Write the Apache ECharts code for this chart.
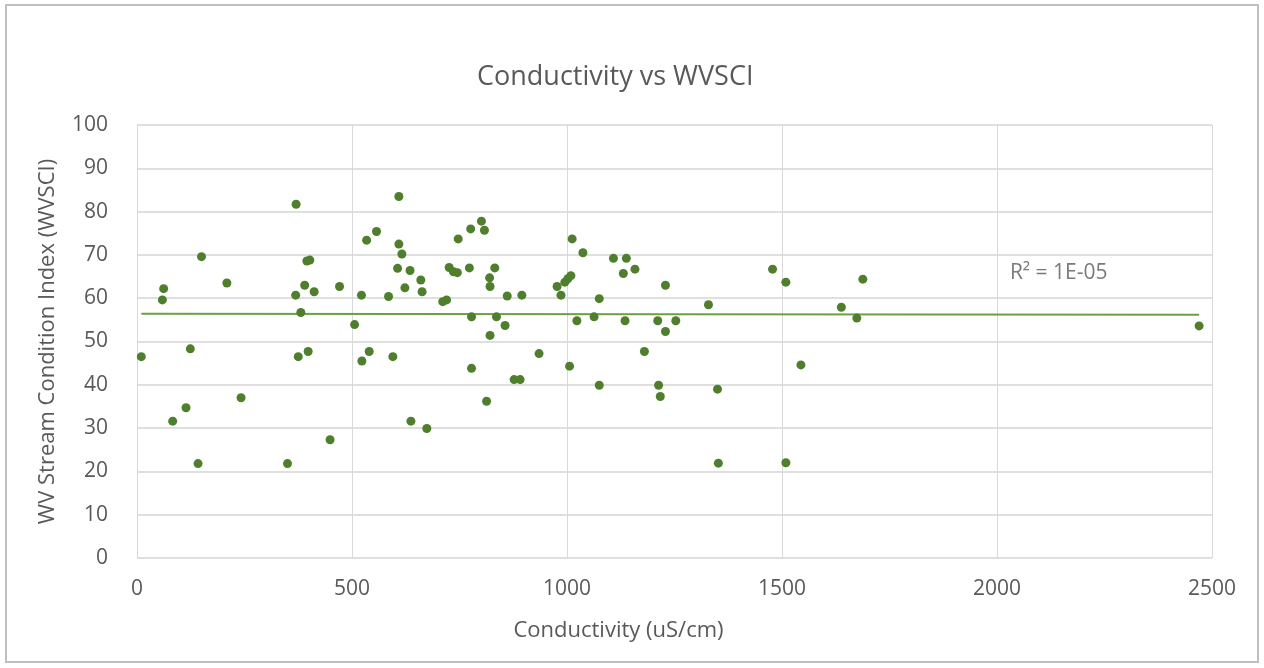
<!DOCTYPE html>
<html>
<head>
<meta charset="utf-8">
<script src="https://cdn.jsdelivr.net/npm/echarts@6/dist/echarts.min.js"></script>
<style>
  html, body {margin:0; padding:0; background:#fff;}
  #frame {position:absolute; left:5px; top:4px; width:1250px; height:655px; border:2px solid #bfbfbf;}
  #chart {position:absolute; left:0; top:0; width:1264px; height:668px;}
</style>
</head>
<body>
<div id="frame"></div>
<div id="chart"></div>
<script>
// conductivity (uS/cm)
const conductivity = [
  10, 59, 62, 83, 114, 124, 142, 150, 209, 242,
  350, 370, 369, 381, 375, 398, 390, 412, 395, 402,
  449, 471, 506, 522, 523, 540, 534, 557, 585, 595,
  609, 609, 616, 606, 635, 623, 660, 663, 637, 674,
  711, 720, 726, 736, 745, 747, 773, 776, 801, 808,
  778, 778, 813, 821, 820, 821, 832, 836, 856, 861,
  895, 877, 891, 935, 977, 986, 995, 1002, 1009, 1012,
  1006, 1023, 1037, 1063, 1075, 1075, 1108, 1138, 1131, 1158,
  1135, 1180, 1211, 1229, 1253, 1229, 1213, 1217, 1329, 1350,
  1352, 1478, 1509, 1509, 1544, 1638, 1674, 1688, 2470
];
// WV Stream Condition Index
const wvsci = [
  46.5, 59.6, 62.2, 31.6, 34.7, 48.3, 21.8, 69.6, 63.5, 37.0,
  21.8, 81.7, 60.7, 56.7, 46.5, 47.7, 63.0, 61.5, 68.6, 68.8,
  27.3, 62.7, 53.9, 60.7, 45.5, 47.7, 73.4, 75.4, 60.4, 46.5,
  83.5, 72.5, 70.2, 66.9, 66.4, 62.4, 64.2, 61.5, 31.6, 29.9,
  59.2, 59.6, 67.1, 66.1, 65.9, 73.7, 67.0, 76.0, 77.8, 75.7,
  55.7, 43.8, 36.2, 51.4, 64.7, 62.7, 67.0, 55.7, 53.7, 60.5,
  60.7, 41.2, 41.2, 47.2, 62.7, 60.7, 63.7, 64.5, 65.2, 73.7,
  44.3, 54.8, 70.5, 55.7, 59.9, 39.9, 69.2, 69.2, 65.7, 66.7,
  54.8, 47.7, 54.8, 52.3, 54.8, 63.0, 39.9, 37.3, 58.5, 39.0,
  21.9, 66.7, 63.7, 22.0, 44.6, 57.9, 55.4, 64.4, 53.6
];
// linear trendline endpoints (Excel trendline, R² = 1E-05)
const trendX = [10, 2470];
const trendY = [56.4, 56.2];
const r2Label = 'R² = 1E-05';

const xTicks = [0, 500, 1000, 1500, 2000, 2500];
const yTicks = [0, 10, 20, 30, 40, 50, 60, 70, 80, 90, 100];

const font = "'Open Sans', 'Noto Sans', sans-serif";
const txt = '#595959';

const chart = echarts.init(document.getElementById('chart'));
chart.setOption({
  backgroundColor: 'transparent',
  animation: false,
  title: {
    text: 'Conductivity vs WVSCI',
    left: 472,
    top: 59,
    textStyle: {fontFamily: font, fontSize: 27, fontWeight: 'normal', color: txt}
  },
  grid: {left: 137, right: 52, top: 125, bottom: 110},
  xAxis: {
    type: 'value',
    min: xTicks[0], max: xTicks[xTicks.length - 1], interval: 500,
    name: 'Conductivity (uS/cm)',
    nameLocation: 'middle',
    nameGap: 62,
    // the Excel axis title sits a little left of the plot centre
    nameTextStyle: {fontFamily: font, fontSize: 22, color: txt, padding: [0, 112, 0, 0]},
    axisLine: {show: false},
    axisTick: {show: false},
    axisLabel: {fontFamily: font, fontSize: 21, color: txt, margin: 21, formatter: v => String(v)},
    splitLine: {show: true, lineStyle: {color: '#d9d9d9', width: 1}}
  },
  yAxis: {
    type: 'value',
    min: yTicks[0], max: yTicks[yTicks.length - 1], interval: 10,
    name: 'WV Stream Condition Index (WVSCI)',
    nameLocation: 'middle',
    nameGap: 78,
    nameTextStyle: {fontFamily: font, fontSize: 22, color: txt},
    axisLine: {show: false},
    axisTick: {show: false},
    axisLabel: {fontFamily: font, fontSize: 21, color: txt, margin: 29},
    splitLine: {show: true, lineStyle: {color: '#d4d4d4', width: 1.5}}
  },
  series: [
    {
      type: 'scatter',
      symbolSize: 9,
      itemStyle: {color: '#4f7f2d', opacity: 1},
      data: conductivity.map((c, i) => [c, wvsci[i]]),
      z: 3
    },
    {
      type: 'line',
      showSymbol: false,
      lineStyle: {color: '#6aa142', width: 2},
      data: trendX.map((x, i) => [x, trendY[i]]),
      z: 2
    },
    {
      type: 'scatter',
      symbolSize: 0,
      silent: true,
      data: [[2030, 65.8]],
      label: {
        show: true,
        formatter: r2Label,
        position: 'right',
        distance: 0,
        fontFamily: font, fontSize: 21, color: txt
      }
    }
  ]
});
</script>
</body>
</html>
